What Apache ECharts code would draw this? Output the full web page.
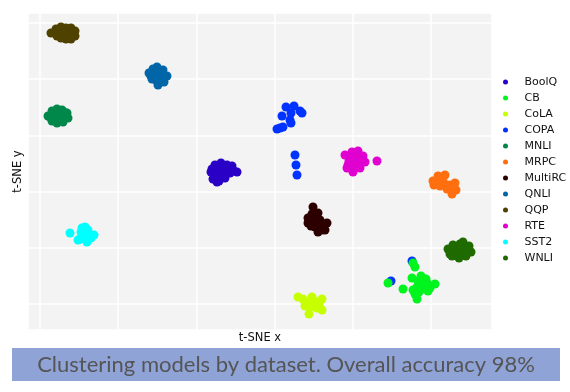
<!DOCTYPE html>
<html><head><meta charset="utf-8">
<script src="https://cdn.jsdelivr.net/npm/echarts@6/dist/echarts.min.js"></script>
<style>html,body{margin:0;padding:0;background:#fff}#c{width:570px;height:392px}</style>
</head><body><div id="c"></div>
<script>
const legendOrder = ['BoolQ','CB','CoLA','COPA','MNLI','MRPC','MultiRC','QNLI','QQP','RTE','SST2','WNLI'];
const drawOrder = ['BoolQ','CoLA','COPA','CB','MNLI','MRPC','MultiRC','QNLI','QQP','RTE','SST2','WNLI'];
const colors = {BoolQ:'#2b00c6',CB:'#00f51e',CoLA:'#c6ff00',COPA:'#0033ff',MNLI:'#00884a',MRPC:'#ff6f0f',MultiRC:'#2d0000',QNLI:'#0066a8',QQP:'#4f4200',RTE:'#e000d0',SST2:'#00ffff',WNLI:'#1f6b00'};

const BoolQ = [[-24.5,-1],[-22.5,2.5],[-19.5,3.5],[-16.5,2.5],[-14,2],[-11.5,-1],[-15,-1.5],[-18.5,-1],[-22,-3],[-23.5,-4.5],[-20.5,-5.5],[-17.5,-4],[-21,0.5],[-20,-2],[-17,0],[-22,-0.5],[-19,1],[-13,-0.5],[-18,-3],[-24,0.5],[-15.5,0.5],[-21.5,-6]];
const CB = [[77.5,-48.5],[76.5,-46.5],[64,-56.5],[71.5,-59.5],[76,-54],[80.5,-53],[83,-54.5],[78.5,-58.5],[82.5,-58.5],[87.5,-57],[85,-59],[76.5,-60],[79.5,-61],[78.5,-64.5],[81.5,-55],[80,-57],[83.5,-56.5],[79,-55.5],[84,-60.5],[77.5,-62],[81,-59.5]];
const CoLA = [[19,-63.5],[22.5,-66],[26,-63.5],[31,-64.5],[31,-70],[28.5,-69],[24.5,-72],[22.5,-68],[26.5,-66.5],[25,-68.5],[28,-66],[21.5,-64.5],[29.5,-67.5]];
const COPA = [[13,31.5],[17,32],[20,29.5],[21,28.5],[15.5,28.5],[11,27],[15,25],[15.5,23.5],[10,21],[8.5,20.5],[11.5,21.5],[17.5,7.5],[18,2.5],[18.5,-2.5],[76,-45.5],[65.5,-55.5]];
const MNLI = [[-106,27],[-104,29.5],[-101.5,30.5],[-99,30],[-96.5,28.5],[-96,26],[-98.5,24],[-101.5,23.5],[-104,24.5],[-102.5,27],[-100,27],[-97.5,27],[-101,29],[-103,26],[-99,26.5],[-98,29],[-100.5,25],[-105,26.5]];
const MRPC = [[86.5,-5.5],[89,-3],[92.5,-2.5],[92,-6.5],[90,-8],[95,-7.5],[97.5,-6.5],[98,-10],[96,-12],[93.5,-9.5],[87,-7.5],[90.5,-5],[94,-8],[96,-9],[91,-3.5]];
const MultiRC = [[26.5,-18.5],[29,-21.5],[24,-24],[24,-26.5],[27.5,-28.5],[31,-30],[33.5,-26.5],[32.5,-30],[29,-31],[30,-25],[27,-24],[28,-26],[30,-28],[26,-22],[31.5,-27.5],[25.5,-28]];
const QNLI = [[-51.5,51.5],[-55.5,48.5],[-46.5,47],[-51,42.5],[-54,45.5],[-48.5,50],[-48,44],[-52.5,48],[-50,46.5],[-54.5,47],[-51,49.5],[-53.5,50.5],[-50,49],[-52,45],[-49,48.5],[-53,47.5]];
const QQP = [[-104.5,68.5],[-102,70.5],[-99.5,71.5],[-97,71],[-94.5,71],[-92.5,69.5],[-92.5,67],[-94.5,65.5],[-97,65.5],[-99.5,66],[-101.5,67],[-100,69],[-97.5,68.5],[-95,68.5],[-98.5,70],[-96,67]];
const RTE = [[42.5,7.5],[46,9],[49,9.5],[51.5,7],[52.5,4],[50,1],[46.5,-1],[43.5,1],[45,5],[48.5,4],[44.5,4.5],[58.5,4.5],[47,6],[49,2],[46.5,2.5],[50.5,5.5],[44,2.5],[48,7.5]];
const SST2 = [[-95,-31.5],[-89,-29],[-86,-30],[-83,-32.5],[-86.5,-36],[-91,-35],[-88.5,-32.5],[-87,-33],[-89.5,-31],[-84.5,-34],[-90,-34.5],[-87.5,-28.5]];
const WNLI = [[94,-39.5],[96.5,-37.5],[100,-37],[101.5,-36],[104.5,-38],[105.5,-41],[103,-43],[99.5,-44],[96,-43],[98.5,-40.5],[102,-40.5],[100,-40],[97,-40],[103,-39],[99,-42],[95,-42]];
const seriesData = {BoolQ,CB,CoLA,COPA,MNLI,MRPC,MultiRC,QNLI,QQP,RTE,SST2,WNLI};

const xRange = [-116, 116];
const yRange = [-80, 78.5];
const gridX = [-0.15345, 5.7801];
const gridY = [-0.4626, 5.1779];
const xTitle = 't-SNE x';
const yTitle = 't-SNE y';
const banner = 'Clustering models by dataset. Overall accuracy 98%';

const chart = echarts.init(document.getElementById('c'), null, {renderer:'canvas'});
const font = 'DejaVu Sans';
chart.setOption({
  animation:false,
  grid:{left:28,right:78,top:13,bottom:62,show:true,backgroundColor:'#f3f3f3',borderWidth:0},
  xAxis:[
    {type:'value',min:xRange[0],max:xRange[1],name:xTitle,nameLocation:'middle',nameGap:2,
     nameTextStyle:{fontFamily:font,fontSize:11.5,color:'#111',verticalAlign:'top'},
     axisLine:{show:false},axisTick:{show:false},axisLabel:{show:false},splitLine:{show:false}},
    {type:'value',min:gridX[0],max:gridX[1],minInterval:1,maxInterval:1,position:'bottom',
     axisLine:{show:false},axisTick:{show:false},axisLabel:{show:false},
     splitLine:{show:true,lineStyle:{color:'#ffffff',width:1.5}}}
  ],
  yAxis:[
    {type:'value',min:yRange[0],max:yRange[1],name:yTitle,nameLocation:'middle',nameGap:4,
     nameTextStyle:{fontFamily:font,fontSize:11.5,color:'#111'},
     axisLine:{show:false},axisTick:{show:false},axisLabel:{show:false},splitLine:{show:false}},
    {type:'value',min:gridY[0],max:gridY[1],minInterval:1,maxInterval:1,position:'left',
     axisLine:{show:false},axisTick:{show:false},axisLabel:{show:false},
     splitLine:{show:true,lineStyle:{color:'#ffffff',width:1.5}}}
  ],
  legend:{orient:'vertical',left:503,top:76,padding:0,itemGap:4,itemWidth:28,itemHeight:5,icon:'circle',
    data:legendOrder,textStyle:{fontFamily:font,fontSize:11,color:'#111',lineHeight:12}},
  series: drawOrder.map(n=>({name:n,type:'scatter',xAxisIndex:0,yAxisIndex:0,data:seriesData[n],
    symbolSize:9,itemStyle:{color:colors[n],opacity:1},clip:false,emphasis:{disabled:true}})),
  graphic:[
    {type:'rect',shape:{x:12,y:348,width:548,height:33},style:{fill:'#8fa3d7'},silent:true},
    {type:'text',x:286,y:364.5,style:{text:banner,fill:'#555555',font:'22px Lato',align:'center',verticalAlign:'middle'},silent:true}
  ]
});
</script></body></html>
